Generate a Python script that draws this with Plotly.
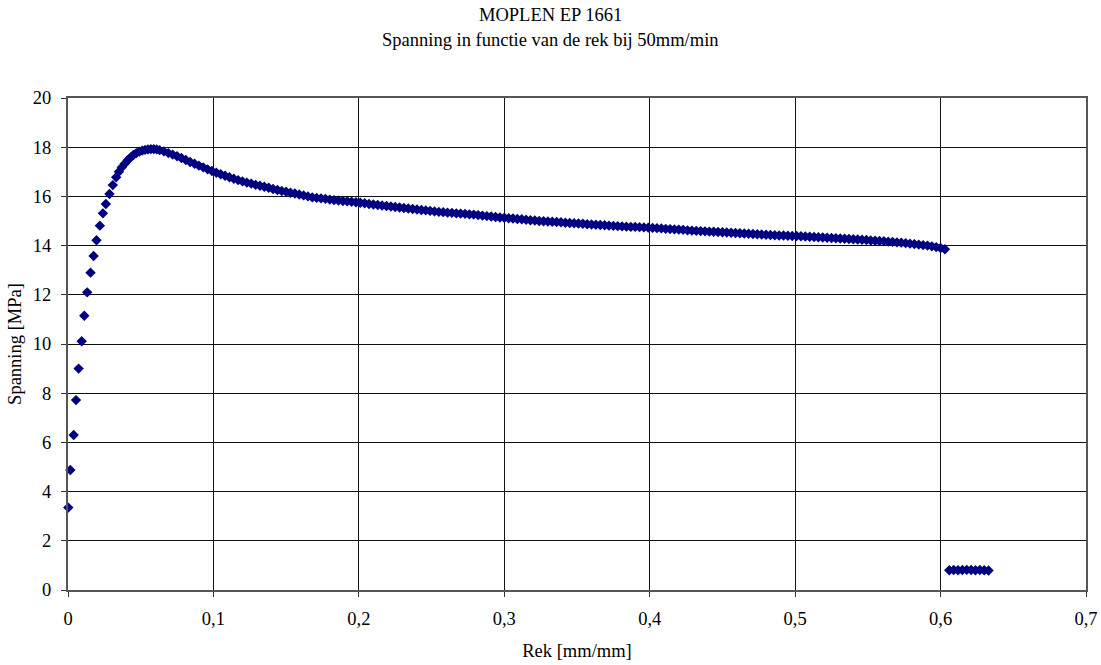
import plotly.graph_objects as go

# Strain [mm/mm] and stress [MPa]
rek_rise = [0.0002, 0.0016, 0.0039, 0.0055, 0.0073, 0.0094, 0.0112, 0.0132, 0.0155, 0.0176,
            0.0196, 0.0219, 0.0240, 0.0260, 0.0285, 0.0308, 0.0331, 0.0350, 0.0370, 0.0390,
            0.0410, 0.0430, 0.0450, 0.0470, 0.0490, 0.0510, 0.0530, 0.0550, 0.0570, 0.0590,
            0.0610, 0.0630]
spanning_rise = [3.35, 4.88, 6.30, 7.72, 9.00, 10.11, 11.15, 12.10, 12.90, 13.58,
                 14.22, 14.81, 15.31, 15.69, 16.10, 16.46, 16.78, 17.00, 17.18, 17.33,
                 17.47, 17.58, 17.68, 17.76, 17.82, 17.86, 17.89, 17.91, 17.92, 17.92,
                 17.91, 17.88]

rek_main = [0.066, 0.069, 0.072, 0.075, 0.078, 0.081, 0.084, 0.087, 0.090, 0.093,
            0.096, 0.099, 0.102, 0.105, 0.108, 0.111, 0.114, 0.117, 0.120, 0.123,
            0.126, 0.129, 0.132, 0.135, 0.138, 0.141, 0.144, 0.147, 0.150, 0.153,
            0.156, 0.159, 0.162, 0.165, 0.168, 0.171, 0.174, 0.177, 0.180, 0.183,
            0.186, 0.189, 0.192, 0.195, 0.198, 0.201, 0.204, 0.207, 0.210, 0.213,
            0.216, 0.219, 0.222, 0.225, 0.228, 0.231, 0.234, 0.237, 0.240, 0.243,
            0.246, 0.249, 0.252, 0.255, 0.258, 0.261, 0.264, 0.267, 0.270, 0.273,
            0.276, 0.279, 0.282, 0.285, 0.288, 0.291, 0.294, 0.297, 0.300, 0.303,
            0.306, 0.309, 0.312, 0.315, 0.318, 0.321, 0.324, 0.327, 0.330, 0.333,
            0.336, 0.339, 0.342, 0.345, 0.348, 0.351, 0.354, 0.357, 0.360, 0.363,
            0.366, 0.369, 0.372, 0.375, 0.378, 0.381, 0.384, 0.387, 0.390, 0.393,
            0.396, 0.399, 0.402, 0.405, 0.408, 0.411, 0.414, 0.417, 0.420, 0.423,
            0.426, 0.429, 0.432, 0.435, 0.438, 0.441, 0.444, 0.447, 0.450, 0.453,
            0.456, 0.459, 0.462, 0.465, 0.468, 0.471, 0.474, 0.477, 0.480, 0.483,
            0.486, 0.489, 0.492, 0.495, 0.498, 0.501, 0.504, 0.507, 0.510, 0.513,
            0.516, 0.519, 0.522, 0.525, 0.528, 0.531, 0.534, 0.537, 0.540, 0.543,
            0.546, 0.549, 0.552, 0.555, 0.558, 0.561, 0.564, 0.567, 0.570, 0.573,
            0.576, 0.579, 0.582, 0.585, 0.588, 0.591, 0.594, 0.597, 0.600, 0.603]
spanning_main = [17.83, 17.76, 17.70, 17.63, 17.56, 17.48, 17.40, 17.33, 17.25, 17.18,
                 17.10, 17.03, 16.96, 16.90, 16.84, 16.78, 16.72, 16.66, 16.61, 16.56,
                 16.52, 16.47, 16.43, 16.39, 16.35, 16.30, 16.26, 16.22, 16.19, 16.15,
                 16.12, 16.08, 16.04, 16.00, 15.96, 15.94, 15.92, 15.90, 15.87, 15.85,
                 15.83, 15.81, 15.80, 15.78, 15.76, 15.74, 15.72, 15.69, 15.67, 15.65,
                 15.63, 15.61, 15.59, 15.57, 15.55, 15.53, 15.51, 15.49, 15.47, 15.45,
                 15.43, 15.41, 15.39, 15.37, 15.36, 15.34, 15.33, 15.31, 15.30, 15.29,
                 15.27, 15.26, 15.24, 15.22, 15.20, 15.18, 15.16, 15.14, 15.13, 15.11,
                 15.10, 15.08, 15.07, 15.05, 15.03, 15.02, 15.00, 14.99, 14.98, 14.97,
                 14.96, 14.95, 14.93, 14.92, 14.91, 14.90, 14.89, 14.87, 14.86, 14.85,
                 14.84, 14.83, 14.81, 14.80, 14.79, 14.78, 14.77, 14.76, 14.76, 14.75,
                 14.74, 14.73, 14.72, 14.71, 14.70, 14.68, 14.67, 14.66, 14.65, 14.64,
                 14.62, 14.61, 14.60, 14.59, 14.58, 14.57, 14.56, 14.55, 14.54, 14.53,
                 14.52, 14.51, 14.50, 14.49, 14.48, 14.47, 14.46, 14.45, 14.44, 14.43,
                 14.42, 14.41, 14.41, 14.40, 14.39, 14.39, 14.38, 14.37, 14.36, 14.35,
                 14.34, 14.33, 14.32, 14.31, 14.30, 14.29, 14.28, 14.27, 14.26, 14.25,
                 14.24, 14.23, 14.21, 14.20, 14.19, 14.18, 14.16, 14.15, 14.13, 14.12,
                 14.10, 14.08, 14.06, 14.04, 14.02, 14.00, 13.97, 13.94, 13.90, 13.85]

rek_break = [0.606, 0.609, 0.612, 0.615, 0.618, 0.621, 0.624, 0.627, 0.630, 0.633]
spanning_break = [0.80, 0.81, 0.80, 0.81, 0.82, 0.81, 0.80, 0.81, 0.80, 0.79]

x_ticks = [0, 0.1, 0.2, 0.3, 0.4, 0.5, 0.6, 0.7]
x_ticklabels = ["0", "0,1", "0,2", "0,3", "0,4", "0,5", "0,6", "0,7"]
y_ticks = [0, 2, 4, 6, 8, 10, 12, 14, 16, 18, 20]

title_line1 = "MOPLEN EP 1661"
title_line2 = "Spanning in functie van de rek bij 50mm/min"
x_title = "Rek [mm/mm]"
y_title = "Spanning [MPa]"

rek = rek_rise + rek_main + rek_break
spanning = spanning_rise + spanning_main + spanning_break

FONT = "Liberation Serif, Times New Roman, serif"
FS = 18.5
W, H = 1101, 665
ML, MR, MT, MB = 68, 15, 98, 75
plot_h = H - MT - MB
plot_w = W - ML - MR
title_x = (W / 2 - ML) / plot_w

fig = go.Figure()
fig.add_trace(go.Scatter(
    x=rek, y=spanning, mode="markers",
    marker=dict(symbol="diamond", size=8, color="#000080", line=dict(width=0)),
    cliponaxis=False, showlegend=False,
))

fig.update_layout(
    width=W, height=H,
    margin=dict(l=ML, r=MR, t=MT, b=MB, autoexpand=False),
    paper_bgcolor="white", plot_bgcolor="white",
    font=dict(family=FONT, size=FS, color="black"),
    showlegend=False,
    annotations=[
        dict(text=title_line1, x=title_x, y=1 + (MT - 15) / plot_h, xref="paper", yref="paper",
             xanchor="center", yanchor="middle",
             showarrow=False, font=dict(family=FONT, size=FS)),
        dict(text=title_line2, x=title_x, y=1 + (MT - 40) / plot_h, xref="paper", yref="paper",
             xanchor="center", yanchor="middle",
             showarrow=False, font=dict(family=FONT, size=FS)),
    ],
)

fig.update_xaxes(
    range=[0, 0.7], tickvals=x_ticks, ticktext=x_ticklabels,
    showgrid=True, gridcolor="#111", gridwidth=1,
    showline=True, linecolor="#555", linewidth=2, mirror=True,
    ticks="outside", ticklen=5, tickcolor="#333",
    zeroline=False, automargin=False, ticklabelstandoff=6,
    title=dict(text=x_title, standoff=16, font=dict(family=FONT, size=FS)),
    tickfont=dict(family=FONT, size=FS),
)
fig.update_yaxes(
    range=[0, 20], tickvals=y_ticks,
    showgrid=True, gridcolor="#111", gridwidth=1,
    showline=True, linecolor="#555", linewidth=2, mirror=True,
    ticks="outside", ticklen=5, tickcolor="#333",
    zeroline=False, automargin=False, ticklabelstandoff=6,
    title=dict(text=y_title, standoff=6, font=dict(family=FONT, size=FS)),
    tickfont=dict(family=FONT, size=FS),
)

fig.write_html("out.html", config={"displayModeBar": False},
               post_script="document.body.style.margin='0px';")
